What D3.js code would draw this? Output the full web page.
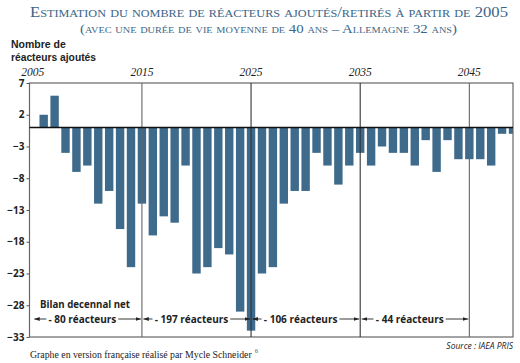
<!DOCTYPE html>
<html>
<head>
<meta charset="utf-8">
<script src="https://cdn.jsdelivr.net/npm/d3@7"></script>
<style>
  body { margin: 0; background: #fff; }
  svg { display: block; }
</style>
</head>
<body>
<svg id="svg" width="520" height="363"></svg>
<script>
const width = 520;
const height = 363;
const barColor = '#3e6a8b';
const titleColor = '#3b6587';
const barWidth = 8.4;

const years = d3.range(2006, 2050);
const values = [
	2, 5, -4, -7, -6, -12, -10, -16, -22, -12,
	-17, -14, -15, -6, -23, -22, -19, -20, -29, -32,
	-23, -22, -12, -10, -10, -4, -6, -9, -6, -4,
	-6, -3, -4, -4, -6, -2, -7, -2, -5, -5,
	-5, -6, -1, -1
];
const yTicks = [7, 2, -3, -8, -13, -18, -23, -28, -33];
const decadeYears = [2005, 2015, 2025, 2035, 2045];
const decadeLabels = ['- 80 réacteurs', '- 197 réacteurs', '- 106 réacteurs', '- 44 réacteurs'];

const frame = { left: 29.5, right: 513, top: 83, bottom: 337 };

const svg = d3.select('#svg');

const xScale = d3.scaleLinear()
	.domain([2004.7, 2049])
	.range([frame.left, frame.right]);

const yScale = d3.scaleLinear()
	.domain([-33, 7])
	.range([frame.bottom, frame.top]);

// titles
svg.append('text')
	.attr('x', 269).attr('y', 17)
	.attr('text-anchor', 'middle')
	.attr('textLength', 478).attr('lengthAdjust', 'spacingAndGlyphs')
	.style('font', 'small-caps 15px "Liberation Serif", serif')
	.style('fill', titleColor)
	.text('Estimation du nombre de réacteurs ajoutés/retirés à partir de 2005');

svg.append('text')
	.attr('x', 268.5).attr('y', 33)
	.attr('text-anchor', 'middle')
	.attr('textLength', 377).attr('lengthAdjust', 'spacingAndGlyphs')
	.style('font', 'small-caps 13px "Liberation Serif", serif')
	.style('fill', titleColor)
	.text('(avec une durée de vie moyenne de 40 ans – Allemagne 32 ans)');

svg.append('text')
	.attr('x', 11).attr('y', 48)
	.style('font', 'bold 10.5px "Liberation Sans", sans-serif')
	.style('fill', '#222')
	.text('Nombre de');
svg.append('text')
	.attr('x', 11).attr('y', 61)
	.attr('textLength', 85).attr('lengthAdjust', 'spacingAndGlyphs')
	.style('font', 'bold 10.5px "Liberation Sans", sans-serif')
	.style('fill', '#222')
	.text('réacteurs ajoutés');

// year labels above the frame
svg.selectAll(null)
	.data(decadeYears)
	.enter()
	.append('text')
	.attr('x', d => xScale(d))
	.attr('y', 76)
	.attr('text-anchor', 'middle')
	.style('font', 'italic 11.5px "Liberation Serif", serif')
	.style('fill', '#222')
	.text(d => d);

// bars
svg.append('clipPath').attr('id', 'plot-clip')
	.append('rect')
	.attr('x', frame.left).attr('y', frame.top)
	.attr('width', frame.right - frame.left)
	.attr('height', frame.bottom - frame.top);

svg.append('g')
	.attr('clip-path', 'url(#plot-clip)')
	.selectAll('rect')
	.data(years)
	.enter()
	.append('rect')
	.attr('x', d => xScale(d) - barWidth / 2)
	.attr('y', (d, i) => yScale(Math.max(0, values[i])))
	.attr('width', barWidth)
	.attr('height', (d, i) => Math.abs(yScale(values[i]) - yScale(0)))
	.attr('fill', barColor);

// frame and decade lines
svg.append('rect')
	.attr('x', frame.left).attr('y', frame.top)
	.attr('width', frame.right - frame.left)
	.attr('height', frame.bottom - frame.top)
	.attr('fill', 'none')
	.attr('stroke', '#666')
	.attr('stroke-width', 1.2);

svg.selectAll(null)
	.data(decadeYears.slice(1))
	.enter()
	.append('line')
	.attr('x1', d => xScale(d)).attr('x2', d => xScale(d))
	.attr('y1', frame.top).attr('y2', frame.bottom)
	.attr('stroke', (d, i) => (i == 1 || i == 2) ? '#333' : '#666')
	.attr('stroke-width', 1.1);

svg.append('line')
	.attr('x1', frame.left).attr('x2', frame.right)
	.attr('y1', yScale(0)).attr('y2', yScale(0))
	.attr('stroke', '#111')
	.attr('stroke-width', 1.5);

// y axis
const yAxis = d3.axisLeft(yScale)
	.tickValues(yTicks)
	.tickSize(3)
	.tickPadding(2);

const yAxisGroup = svg.append('g')
	.attr('transform', 'translate(' + frame.left + ',0)')
	.call(yAxis);
yAxisGroup.select('.domain').remove();
yAxisGroup.selectAll('line').attr('stroke', '#555');
yAxisGroup.selectAll('text')
	.style('font', 'bold 10px "Open Sans", sans-serif')
	.style('fill', '#222');

// decade net balance
svg.append('text')
	.attr('x', 40).attr('y', 308)
	.attr('textLength', 90).attr('lengthAdjust', 'spacingAndGlyphs')
	.style('font', 'bold 10.5px "Open Sans", sans-serif')
	.style('fill', '#222')
	.text('Bilan decennal net');

svg.append('defs').append('marker')
	.attr('id', 'arrow')
	.attr('viewBox', '0 0 10 10')
	.attr('refX', 10).attr('refY', 5)
	.attr('markerWidth', 6).attr('markerHeight', 6)
	.attr('orient', 'auto-start-reverse')
	.append('path')
	.attr('d', 'M0,1.5 L10,5 L0,8.5 z')
	.attr('fill', '#222');

const arrowY = 319;
const decades = decadeLabels.map((label, i) => ({
	label: label,
	start: decadeYears[i],
	end: decadeYears[i + 1]
}));

svg.selectAll(null)
	.data(decades)
	.enter()
	.append('line')
	.attr('x1', d => xScale(d.start) + 1.5)
	.attr('x2', d => xScale(d.end) - 1)
	.attr('y1', arrowY).attr('y2', arrowY)
	.attr('stroke', '#222')
	.attr('stroke-width', 0.9)
	.attr('marker-start', 'url(#arrow)')
	.attr('marker-end', 'url(#arrow)');

svg.selectAll(null)
	.data(decades)
	.enter()
	.append('text')
	.attr('x', d => (xScale(d.start) + xScale(d.end)) / 2 - 5)
	.attr('y', arrowY + 4)
	.attr('text-anchor', 'middle')
	.style('font', 'bold 10px "Open Sans", sans-serif')
	.style('fill', '#222')
	.style('stroke', '#fff')
	.style('stroke-width', 5)
	.style('paint-order', 'stroke')
	.text(d => d.label);

// footer: font size scaled so the line is about 222px wide
const footer = svg.append('text')
	.attr('x', 30).attr('y', 358)
	.style('font-family', '"Liberation Serif", serif')
	.style('font-size', '10.5px')
	.style('fill', '#222')
	.text('Graphe en version française réalisé par Mycle Schneider');
const naturalLen = footer.node().getComputedTextLength();
footer.style('font-size', (10.5 * 222 / naturalLen) + 'px');
const footerEnd = 30 + footer.node().getComputedTextLength();

svg.append('text')
	.attr('x', footerEnd + 3).attr('y', 353)
	.style('font', '6.5px "Liberation Serif", serif')
	.style('fill', titleColor)
	.text('6');

svg.append('text')
	.attr('x', frame.right).attr('y', 349)
	.attr('text-anchor', 'end')
	.style('font', 'italic 8.5px "Open Sans", sans-serif')
	.style('fill', '#222')
	.text('Source : IAEA PRIS');
</script>
</body>
</html>
